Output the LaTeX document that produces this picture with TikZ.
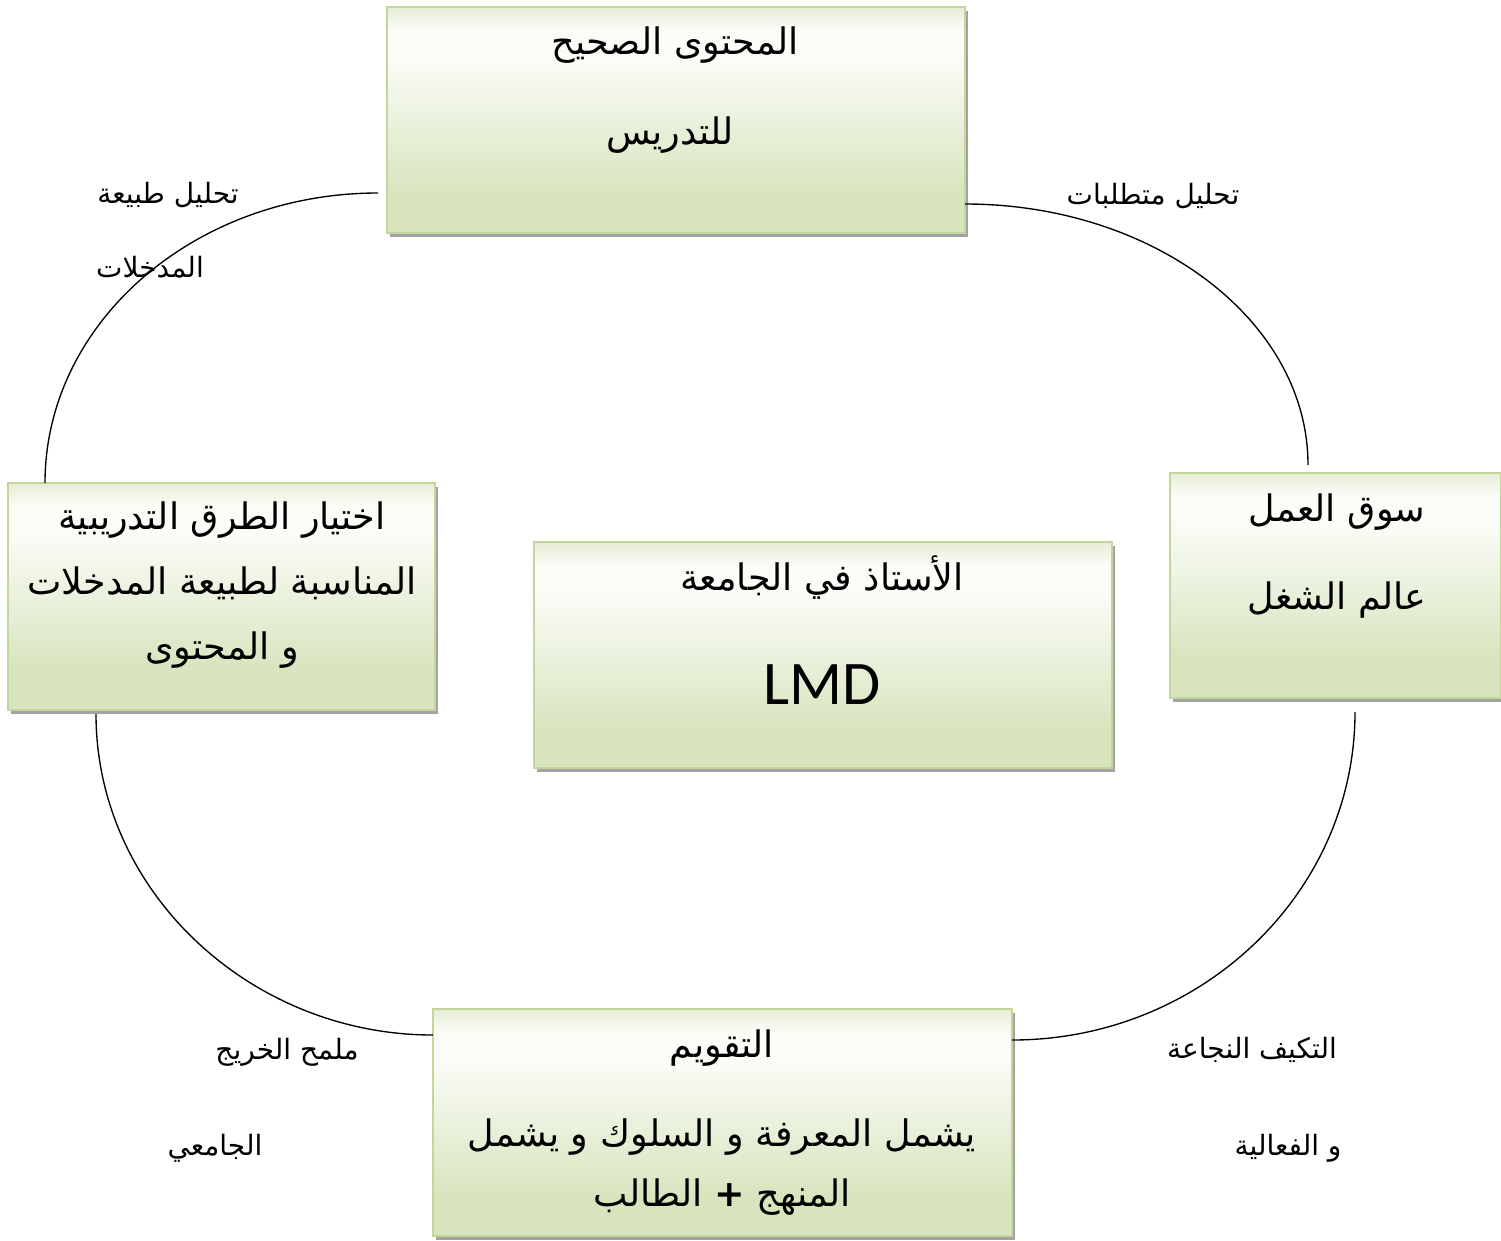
\documentclass[tikz,border=0pt]{standalone}
\usepackage{fontspec}
\usetikzlibrary{calc,shadows}
\TeXXeTstate=1
\newfontfamily\arabicfont[Script=Arabic]{DejaVu Sans}
\newfontfamily\latinfont{Carlito}
\newcommand{\artext}[1]{{\arabicfont\beginR #1\endR}}

\definecolor{boxedge}{HTML}{C3D69B}
\definecolor{boxlow}{HTML}{D7E4BD}
\definecolor{boxtop}{HTML}{E6EDD4}
\definecolor{boxlight}{HTML}{FBFCF8}
\definecolor{shadowgray}{HTML}{8C8C8C}

% soft green fade: greener at the foot, almost white just below the top edge
\pgfdeclareverticalshading{greenfade}{100bp}{%
  color(0bp)=(boxlow); color(25bp)=(boxlow); color(33bp)=(boxlow);
  color(64bp)=(boxlight); color(70bp)=(boxlight); color(75bp)=(boxtop);
  color(100bp)=(boxtop)}

\tikzset{
  greenbox/.style={draw=boxedge, line width=1.8pt, shading=greenfade,
    inner sep=0pt,
    drop shadow={shadow xshift=3pt, shadow yshift=-3.5pt, fill=shadowgray, opacity=0.8}},
  boxtext/.style={font=\arabicfont\fontsize{36.5}{44}\selectfont, inner sep=0pt, align=center},
  sidelabel/.style={font=\arabicfont\fontsize{28}{32}\selectfont, inner sep=0pt},
  link/.style={line width=1.35pt}
}

\begin{document}
\begin{tikzpicture}[x=1pt,y=-1pt]
\useasboundingbox (0,0) rectangle (1501,1240);

% the five boxes
\node[greenbox, minimum width=578pt, minimum height=226pt] (content) at (676,120) {};
\node[greenbox, minimum width=427pt, minimum height=227pt] (methods) at (221.5,596.5) {};
\node[greenbox, minimum width=331pt, minimum height=225pt] (market) at (1335.5,585.5) {};
\node[greenbox, minimum width=578pt, minimum height=226pt] (teacher) at (823,655) {};
\node[greenbox, minimum width=579pt, minimum height=227pt] (evaluation) at (722.5,1122.5) {};

% box texts
\node[boxtext] (content1) at (675,45) {\artext{المحتوى الصحيح}};
\node[boxtext] (content2) at (670,135) {\artext{للتدريس}};

\node[boxtext] (methods1) at (222,520) {\artext{اختيار الطرق التدريبية}};
\node[boxtext] (methods2) at (222,583) {\artext{المناسبة لطبيعة المدخلات}};
\node[boxtext] (methods3) at (222,650) {\artext{و المحتوى}};

\node[boxtext] (market1) at (1337,512) {\artext{سوق العمل}};
\node[boxtext] (market2) at (1337,600) {\artext{عالم الشغل}};

\node[boxtext] (teacher1) at (822,578) {\artext{الأستاذ في الجامعة}};
\node[font=\latinfont\fontsize{62}{70}\selectfont, inner sep=0pt] (teacher2) at (822,685) {LMD};

\node[boxtext] (evaluation1) at (722,1048) {\artext{التقويم}};
\node[boxtext] (evaluation2) at (722,1137) {\artext{يشمل المعرفة و السلوك و يشمل}};
\node[boxtext] (evaluation3) at (722,1197) {\artext{المنهج \textbf{+} الطالب}};

% labels beside the ring
\node[sidelabel] (lblA1) at (168,195) {\artext{تحليل طبيعة}};
\node[sidelabel] (lblA2) at (150,267) {\artext{المدخلات}};
\node[sidelabel] (lblB1) at (1153,196) {\artext{تحليل متطلبات}};
\node[sidelabel] (lblC1) at (1252,1050) {\artext{التكيف النجاعة}};
\node[sidelabel] (lblC2) at (1288,1148) {\artext{و الفعالية}};
\node[sidelabel] (lblD1) at (287,1052) {\artext{ملمح الخريج}};
\node[sidelabel] (lblD2) at (215,1148) {\artext{الجامعي}};

% attachment points of the ring
\coordinate (a1) at (378,193);
\coordinate (a2) at (45,483);
\coordinate (b1) at (965,204);
\coordinate (b2) at (1308,465);
\coordinate (c1) at (1355,712);
\coordinate (c2) at (1012,1040);
\coordinate (d1) at (96,714);
\coordinate (d2) at (433,1035);

% the ring of arcs between the boxes
\draw[link] (a1) .. controls (194,193) and (45,323) .. (a2);
\draw[link] (b1) .. controls (1154,204) and (1308,321) .. (b2);
\draw[link] (c1) .. controls (1355,893) and (1201,1040) .. (c2);
\draw[link] (d1) .. controls (96,891) and (250,1035) .. (d2);
\end{tikzpicture}
\end{document}
